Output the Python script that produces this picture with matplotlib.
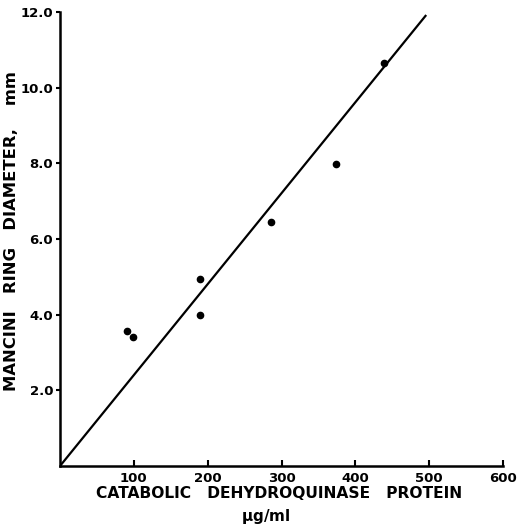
import numpy as np
import matplotlib.pyplot as plt

# catabolic dehydroquinase protein (ug/ml) vs Mancini ring diameter (mm)
protein = [91, 99, 189, 190, 286, 374, 439]
diameter = [3.56, 3.40, 3.99, 4.95, 6.46, 7.98, 10.66]

# fitted standard line
line_x = [0, 495]
line_y = [0, 11.9]

xticks = [100, 200, 300, 400, 500, 600]
yticks = [2.0, 4.0, 6.0, 8.0, 10.0, 12.0]

fig = plt.figure(figsize=(5.17, 5.26), dpi=100)
ax = fig.add_axes([0.116, 0.114, 0.857, 0.863])

ax.plot(line_x, line_y, color='black', lw=1.6)
ax.plot(protein, diameter, 'o', color='black', ms=4.5)

ax.set_xlim(0, 600)
ax.set_ylim(0, 12)
ax.set_xticks(xticks)
ax.set_xticklabels([str(t) for t in xticks], fontweight='bold')
ax.set_yticks(yticks)
ax.set_yticklabels([f'{t:.1f}' for t in yticks], fontweight='bold')

for s in ['top', 'right']:
    ax.spines[s].set_visible(False)
for s in ['left', 'bottom']:
    ax.spines[s].set_linewidth(1.8)

ax.tick_params(axis='x', direction='in', length=4, width=1.5, pad=4, labelsize=9.5)
ax.tick_params(axis='y', direction='out', length=3, width=1.5, pad=2, labelsize=9.5)

fig.text(279 / 517, 1 - 494 / 526, 'CATABOLIC   DEHYDROQUINASE   PROTEIN',
         ha='center', va='center', fontsize=11.2, fontweight='bold')
fig.text(266 / 517, 1 - 516 / 526, '$\\mathbf{\\mu}$g/ml',
         ha='center', va='center', fontsize=11, fontweight='bold')
fig.text(12 / 517, 1 - 231 / 526, 'MANCINI   RING   DIAMETER,    mm',
         ha='center', va='center', rotation=90, fontsize=11.8, fontweight='bold')

fig.savefig('out.png', dpi=100)
